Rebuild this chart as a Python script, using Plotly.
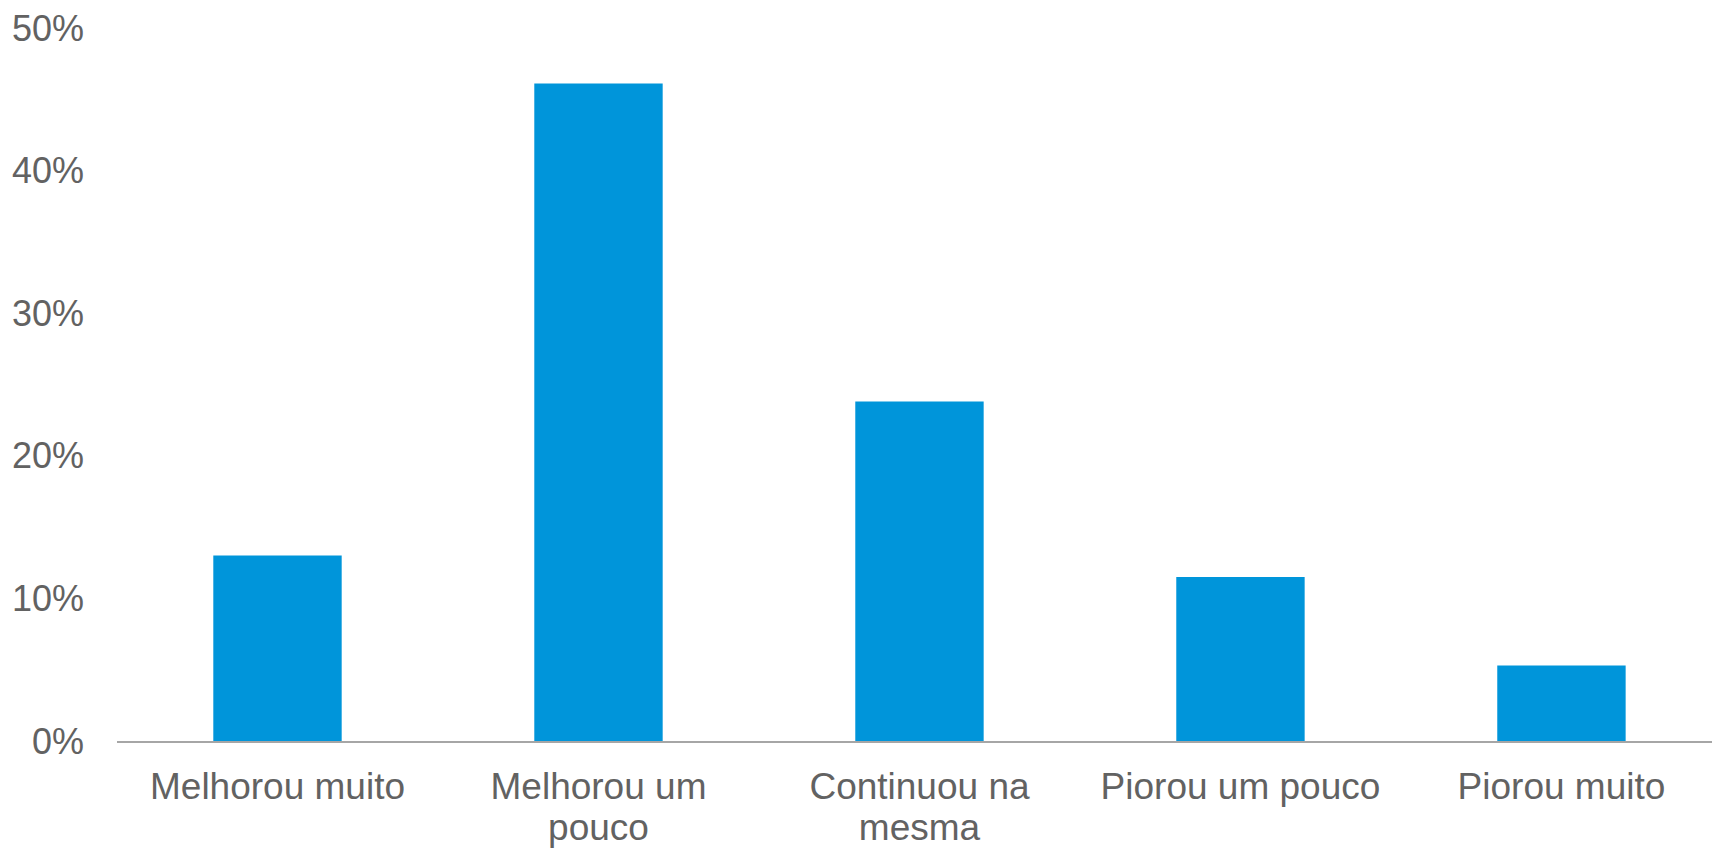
import plotly.graph_objects as go

categories = ["Melhorou muito", "Melhorou um<br>pouco", "Continuou na<br>mesma", "Piorou um pouco", "Piorou muito"]
values = [13.0, 46.1, 23.8, 11.5, 5.3]
y_ticks = [0, 10, 20, 30, 40, 50]
y_tick_labels = ["0%", "10%", "20%", "30%", "40%", "50%"]

BAR_COLOR = "#0095DA"
TEXT_COLOR = "#626262"
FONT = "Liberation Sans, Arial, sans-serif"

x_ticktext = ['<span style="font-size:37px">' + c.replace("<br>", '</span><br><span style="font-size:37px">') + "</span>" for c in categories]

fig = go.Figure(
    go.Bar(
        x=list(range(len(categories))),
        y=values,
        marker=dict(color=BAR_COLOR, line=dict(width=0)),
        hoverinfo="skip",
    )
)

fig.update_layout(
    width=1712,
    height=848,
    margin=dict(l=117, r=0, t=28, b=107, pad=0),
    paper_bgcolor="white",
    plot_bgcolor="white",
    bargap=0.6,
    showlegend=False,
    font=dict(family=FONT, size=36, color=TEXT_COLOR),
)

fig.update_xaxes(
    tickmode="array",
    tickvals=list(range(len(categories))),
    ticktext=x_ticktext,
    range=[-0.5, 4.469],
    showgrid=False,
    zeroline=False,
    showline=True,
    linecolor="#A6A6A6",
    linewidth=2,
    ticks="",
    ticklabelstandoff=19,
    tickfont=dict(family=FONT, size=31, color=TEXT_COLOR),
    automargin=False,
    fixedrange=True,
)

fig.update_yaxes(
    range=[0, 50],
    tickmode="array",
    tickvals=y_ticks,
    ticktext=y_tick_labels,
    showgrid=False,
    zeroline=False,
    showline=False,
    ticks="",
    ticklabelstandoff=32,
    tickfont=dict(family=FONT, size=36, color=TEXT_COLOR),
    automargin=False,
    fixedrange=True,
)

fig.write_html(
    "out.html",
    config={"displayModeBar": False},
    post_script="document.body.style.margin='0';document.body.style.overflow='hidden';",
)
